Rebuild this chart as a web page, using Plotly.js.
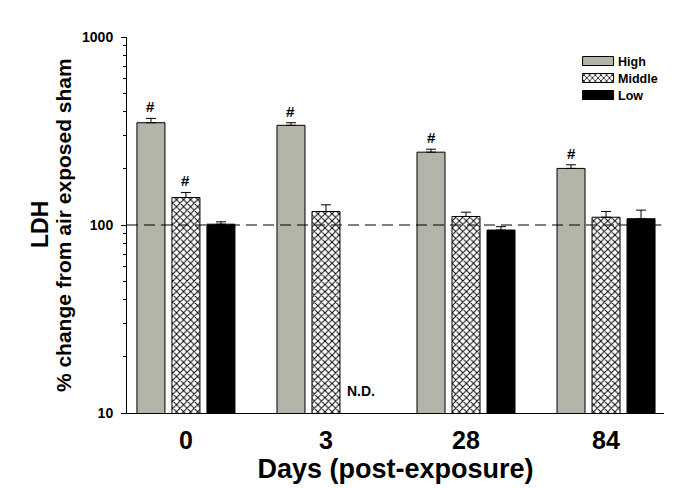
<!DOCTYPE html>
<html>
<head>
<meta charset="utf-8">
<script src="https://cdn.plot.ly/plotly-3.0.1.min.js"></script>
<style>html,body{margin:0;padding:0;background:#fff;}#chart{width:685px;height:488px;}</style>
</head>
<body>
<div id="chart"></div>
<script>
var days = ["0", "3", "28", "84"];
var highVals = [350, 339, 244, 200];
var highErr = [19, 11, 9, 9];
var middleVals = [140, 118, 111, 110];
var middleErr = [9, 10, 6, 8];
var lowVals = [101, null, 94, 108];
var lowErr = [3, 0, 4, 12];
var highSig = [true, true, true, true];
var middleSig = [true, false, false, false];
var ytickVals = [10, 100, 1000];
var ytickText = ["10", "100", "1000"];
var minorVals = [20,30,40,50,60,70,80,90,200,300,400,500,600,700,800,900];

var FONT = "Arial, 'Liberation Sans', sans-serif";

function errObj(arr) {
  return {type: "data", symmetric: false, array: arr, arrayminus: arr.map(function(){return 0;}),
          color: "#000", thickness: 1, width: 5};
}

var traces = [
  {type: "bar", name: "High", x: days, y: highVals, error_y: errObj(highErr),
   marker: {color: "#b4b4a8", line: {color: "#000", width: 1}}},
  {type: "bar", name: "Middle", x: days, y: middleVals, error_y: errObj(middleErr),
   marker: {color: "#ffffff", line: {color: "#000", width: 1},
            pattern: {shape: "x", fgcolor: "#000", bgcolor: "#fff", size: 5, solidity: 0.35}}},
  {type: "bar", name: "Low", x: days, y: lowVals, error_y: errObj(lowErr),
   marker: {color: "#000000", line: {color: "#000", width: 1}}}
];

var annotations = [];
function addHash(vals, errs, sig, offset) {
  for (var i = 0; i < vals.length; i++) {
    if (sig[i] && vals[i] != null) {
      annotations.push({x: i + offset, y: Math.log10(vals[i] + errs[i]), xref: "x", yref: "y",
        text: "#", showarrow: false, yanchor: "bottom", yshift: 1,
        font: {family: FONT, size: 15, color: "#000", weight: "bold"}});
    }
  }
}
addHash(highVals, highErr, highSig, -0.25);
addHash(middleVals, middleErr, middleSig, 0);
for (var i = 0; i < lowVals.length; i++) {
  if (lowVals[i] == null) {
    annotations.push({x: i + 0.25, y: 1, xref: "x", yref: "y", text: "N.D.", showarrow: false,
      yanchor: "bottom", yshift: 12, font: {family: FONT, size: 14, color: "#000", weight: "bold"}});
  }
}
// y-axis title lines
annotations.push({xref: "paper", yref: "paper", x: -0.162, y: 0.5, xanchor: "center", yanchor: "middle",
  textangle: -90, text: "LDH", showarrow: false, font: {family: FONT, size: 23, weight: "bold"}});
annotations.push({xref: "paper", yref: "paper", x: -0.119, y: 0.5, xanchor: "center", yanchor: "middle",
  textangle: -90, text: "% change from air exposed sham", showarrow: false,
  font: {family: FONT, size: 21, weight: "bold"}});

var layout = {
  width: 685, height: 488,
  margin: {l: 127, r: 21, t: 37, b: 75},
  paper_bgcolor: "#fff", plot_bgcolor: "#fff",
  font: {family: FONT, color: "#000"},
  barmode: "group", bargap: 0.25, bargroupgap: 0.2,
  showlegend: true,
  legend: {x: 0.84, y: 0.975, xanchor: "left", yanchor: "top", bgcolor: "rgba(0,0,0,0)",
           font: {family: FONT, size: 12.5, weight: "bold"}, tracegroupgap: 0, itemwidth: 30},
  xaxis: {type: "category", range: [-0.421, 3.414], showline: true, linecolor: "#000", linewidth: 1,
          ticks: "", showgrid: false, zeroline: false, ticklabelstandoff: 5,
          tickfont: {family: FONT, size: 25, weight: "bold"},
          title: {text: "Days (post-exposure)", standoff: 0, font: {family: FONT, size: 27, weight: "bold"}}},
  yaxis: {type: "log", range: [1, 3], showline: true, linecolor: "#000", linewidth: 1,
          ticks: "outside", ticklen: 5, tickwidth: 1, tickcolor: "#000",
          tickvals: ytickVals, ticktext: ytickText, showgrid: false, zeroline: false,
          ticklabelstandoff: 5,
          tickfont: {family: FONT, size: 14, weight: "bold"},
          minor: {tickvals: minorVals, ticks: "outside", ticklen: 3, tickwidth: 1, tickcolor: "#000", showgrid: false}},
  shapes: [{type: "line", xref: "paper", x0: 0, x1: 0.995, yref: "y", y0: 100, y1: 100,
            line: {color: "#000", width: 1, dash: "11px,6px"}}],
  annotations: annotations
};

Plotly.newPlot("chart", traces, layout, {displayModeBar: false}).then(function(gd) {
  var paths = gd.querySelectorAll(".legend .legendpoints path");
  paths.forEach(function(p) {
    p.setAttribute("d", "M15.5,4.5H-15.5V-4.5H15.5Z");
  });
  var items = gd.querySelectorAll(".legend .traces");
  if (items.length) {
    var first = /translate\(([-\d.]+)[ ,]+([-\d.]+)\)/.exec(items[0].getAttribute("transform") || "");
    var bx = first ? parseFloat(first[1]) : 0, by = first ? parseFloat(first[2]) : 0;
    items.forEach(function(g, k) {
      g.setAttribute("transform", "translate(" + bx + "," + (by + 17 * k) + ")");
    });
  }
});
</script>
</body>
</html>
